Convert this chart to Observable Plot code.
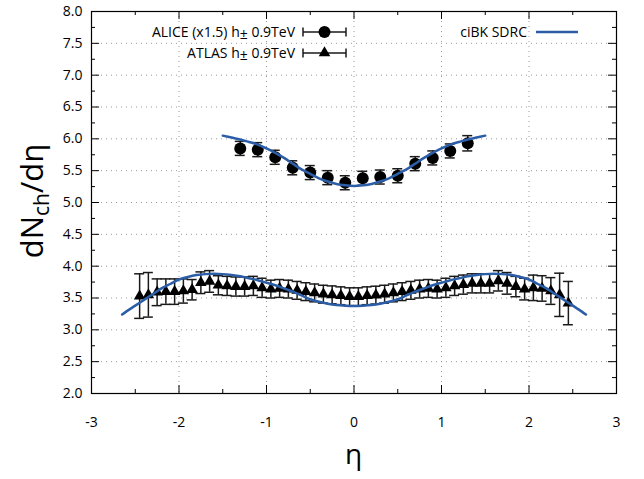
<!DOCTYPE html>
<html>
<head>
<meta charset="utf-8">
<script src="https://cdn.jsdelivr.net/npm/d3@7"></script>
<script src="https://cdn.jsdelivr.net/npm/@observablehq/plot@0.6"></script>
<style>
  html, body { margin: 0; padding: 0; background: white; }
</style>
</head>
<body>
<div id="chart"></div>
<script>
// ALICE (x1.5) h± 0.9 TeV
const etaAlice = [-1.3, -1.1, -0.9, -0.7, -0.5, -0.3, -0.1, 0.1, 0.3, 0.5, 0.7, 0.9, 1.1, 1.3];
const dnAlice  = [5.85, 5.83, 5.71, 5.545, 5.47, 5.39, 5.31, 5.38, 5.40, 5.42, 5.61, 5.70, 5.81, 5.93];
const errAlice = [0.11, 0.11, 0.11, 0.11, 0.11, 0.11, 0.11, 0.11, 0.11, 0.11, 0.11, 0.11, 0.11, 0.12];

// ATLAS h± 0.9 TeV
const etaAtlas = [-2.45, -2.35, -2.25, -2.15, -2.05, -1.95, -1.85, -1.75, -1.65, -1.55,
                  -1.45, -1.35, -1.25, -1.15, -1.05, -0.95, -0.85, -0.75, -0.65, -0.55,
                  -0.45, -0.35, -0.25, -0.15, -0.05, 0.05, 0.15, 0.25, 0.35, 0.45,
                  0.55, 0.65, 0.75, 0.85, 0.95, 1.05, 1.15, 1.25, 1.35, 1.45,
                  1.55, 1.65, 1.75, 1.85, 1.95, 2.05, 2.15, 2.25, 2.35, 2.45];
const dnAtlas  = [3.53, 3.55, 3.59, 3.60, 3.60, 3.61, 3.63, 3.74, 3.76, 3.70,
                  3.69, 3.68, 3.68, 3.69, 3.66, 3.64, 3.65, 3.64, 3.62, 3.60,
                  3.58, 3.56, 3.55, 3.535, 3.52, 3.52, 3.535, 3.545, 3.56, 3.58,
                  3.60, 3.62, 3.64, 3.65, 3.64, 3.66, 3.69, 3.71, 3.73, 3.73,
                  3.73, 3.77, 3.73, 3.68, 3.64, 3.66, 3.65, 3.61, 3.55, 3.42];
const errAtlas = [0.35, 0.35, 0.21, 0.20, 0.20, 0.19, 0.16, 0.17, 0.17, 0.15,
                  0.15, 0.15, 0.15, 0.15, 0.15, 0.14, 0.14, 0.14, 0.14, 0.14,
                  0.14, 0.14, 0.14, 0.14, 0.14, 0.14, 0.14, 0.14, 0.14, 0.14,
                  0.14, 0.14, 0.14, 0.14, 0.14, 0.15, 0.15, 0.15, 0.15, 0.15,
                  0.15, 0.16, 0.17, 0.16, 0.17, 0.20, 0.20, 0.21, 0.34, 0.34];

// ciBK SDRC model curves
const etaAliceModel = [-1.5, -1.4, -1.3, -1.2, -1.1, -1.0, -0.9, -0.8, -0.7, -0.6, -0.5, -0.4, -0.3, -0.2, -0.1, 0,
                       0.1, 0.2, 0.3, 0.4, 0.5, 0.6, 0.7, 0.8, 0.9, 1.0, 1.1, 1.2, 1.3, 1.4, 1.5];
const dnAliceModel  = [6.05, 6.02, 5.99, 5.95, 5.91, 5.85, 5.78, 5.70, 5.61, 5.52, 5.45, 5.38, 5.33, 5.29, 5.27, 5.26,
                       5.27, 5.29, 5.33, 5.38, 5.45, 5.52, 5.61, 5.70, 5.78, 5.85, 5.91, 5.95, 5.99, 6.02, 6.05];
const etaAtlasModel = [-2.65, -2.6, -2.5, -2.4, -2.3, -2.2, -2.1, -2.0, -1.9, -1.8, -1.7, -1.6, -1.5, -1.4,
                       -1.3, -1.2, -1.1, -1.0, -0.9, -0.8, -0.7, -0.6, -0.5, -0.4, -0.3, -0.2, -0.1, 0,
                       0.1, 0.2, 0.3, 0.4, 0.5, 0.6, 0.7, 0.8, 0.9, 1.0, 1.1, 1.2, 1.3, 1.4,
                       1.5, 1.6, 1.7, 1.8, 1.9, 2.0, 2.1, 2.2, 2.3, 2.4, 2.5, 2.6, 2.65];
const dnAtlasModel  = [3.24, 3.29, 3.38, 3.47, 3.56, 3.65, 3.72, 3.79, 3.83, 3.86, 3.875, 3.88, 3.875, 3.86,
                       3.84, 3.81, 3.78, 3.74, 3.70, 3.65, 3.60, 3.54, 3.48, 3.44, 3.41, 3.39, 3.38, 3.375,
                       3.38, 3.39, 3.41, 3.44, 3.48, 3.54, 3.60, 3.65, 3.70, 3.74, 3.78, 3.81, 3.84, 3.86,
                       3.875, 3.88, 3.875, 3.86, 3.83, 3.79, 3.72, 3.65, 3.56, 3.47, 3.38, 3.29, 3.24];

// ticks
const xTicks = [-3, -2, -1, 0, 1, 2, 3];
const xMinor = [-2.5, -1.5, -0.5, 0.5, 1.5, 2.5];
const xGrid  = [-2, -1, 0, 1, 2];
const yTicks = [2.0, 2.5, 3.0, 3.5, 4.0, 4.5, 5.0, 5.5, 6.0, 6.5, 7.0, 7.5, 8.0];
const yMinor = [2.25, 2.75, 3.25, 3.75, 4.25, 4.75, 5.25, 5.75, 6.25, 6.75, 7.25, 7.75];
const yGrid  = [2.5, 3.0, 3.5, 4.0, 4.5, 5.0, 5.5, 6.0, 6.5, 7.0, 7.5];

const legendAlice = "ALICE (x1.5) h";
const legendAtlas = "ATLAS h";
const legendSuffix = " 0.9TeV";
const legendModel = "ciBK SDRC";

const alice = etaAlice.map((x, i) => ({x, y: dnAlice[i], e: errAlice[i]}));
const atlas = etaAtlas.map((x, i) => ({x, y: dnAtlas[i], e: errAtlas[i]}));
const aliceModel = etaAliceModel.map((x, i) => ({x, y: dnAliceModel[i]}));
const atlasModel = etaAtlasModel.map((x, i) => ({x, y: dnAtlasModel[i]}));

const W = 644, H = 479, ML = 91, MR = 28, MT = 11, MB = 86;
const FW = W - ML - MR, FH = H - MT - MB;
const blue = "#2c5ea8";
const errColor = "#1a1a1a";
const capHalf = 0.057;
const triR = 4.3;

const chart = Plot.plot({
  width: W, height: H,
  marginLeft: ML, marginRight: MR, marginTop: MT, marginBottom: MB,
  x: {domain: [-3, 3]},
  y: {domain: [2, 8]},
  style: {fontFamily: "'Open Sans', sans-serif", fontSize: "14px", background: "white", color: "black"},
  marks: [
    Plot.gridX(xGrid, {stroke: "#9a9a9a", strokeOpacity: 1, strokeDasharray: "1,4", strokeWidth: 1}),
    Plot.gridY(yGrid, {stroke: "#9a9a9a", strokeOpacity: 1, strokeDasharray: "1,4", strokeWidth: 1}),
    // ticks (inward, mirrored)
    Plot.ruleX(xTicks, {x: d => d, insetTop: FH - 8, stroke: "black"}),
    Plot.ruleX(xTicks, {x: d => d, insetBottom: FH - 8, stroke: "black"}),
    Plot.ruleX(xMinor, {x: d => d, insetTop: FH - 4, stroke: "black"}),
    Plot.ruleX(xMinor, {x: d => d, insetBottom: FH - 4, stroke: "black"}),
    Plot.ruleY(yTicks, {y: d => d, insetRight: FW - 8, stroke: "black"}),
    Plot.ruleY(yTicks, {y: d => d, insetLeft: FW - 8, stroke: "black"}),
    Plot.ruleY(yMinor, {y: d => d, insetRight: FW - 4, stroke: "black"}),
    Plot.ruleY(yMinor, {y: d => d, insetLeft: FW - 4, stroke: "black"}),
    Plot.axisX({ticks: xTicks, tickSize: 0, tickPadding: 24, tickFormat: d => String(d), fontSize: 14, label: null}),
    Plot.axisY({ticks: yTicks, tickSize: 0, tickPadding: 9, tickFormat: d3.format(".1f"), fontSize: 14, label: null}),
    // ATLAS error bars
    Plot.ruleX(atlas, {x: "x", y1: d => d.y - d.e, y2: d => d.y + d.e, stroke: errColor, strokeWidth: 1.5}),
    Plot.ruleY(atlas, {y: d => d.y - d.e, x1: d => d.x - capHalf, x2: d => d.x + capHalf, stroke: errColor, strokeWidth: 1.5}),
    Plot.ruleY(atlas, {y: d => d.y + d.e, x1: d => d.x - capHalf, x2: d => d.x + capHalf, stroke: errColor, strokeWidth: 1.5}),
    Plot.dot(atlas, {x: "x", y: "y", symbol: "triangle", r: triR, fill: "black", stroke: "none"}),
    // ALICE error bars
    Plot.ruleX(alice, {x: "x", y1: d => d.y - d.e, y2: d => d.y + d.e, stroke: errColor, strokeWidth: 1.5}),
    Plot.ruleY(alice, {y: d => d.y - d.e, x1: d => d.x - capHalf, x2: d => d.x + capHalf, stroke: errColor, strokeWidth: 1.5}),
    Plot.ruleY(alice, {y: d => d.y + d.e, x1: d => d.x - capHalf, x2: d => d.x + capHalf, stroke: errColor, strokeWidth: 1.5}),
    Plot.dot(alice, {x: "x", y: "y", r: 6, fill: "black", stroke: "none"}),
    // model curves
    Plot.line(atlasModel, {x: "x", y: "y", stroke: blue, strokeWidth: 2.5, curve: "catmull-rom"}),
    Plot.line(aliceModel, {x: "x", y: "y", stroke: blue, strokeWidth: 2.5, curve: "catmull-rom"}),
    Plot.frame({stroke: "black", strokeWidth: 1.2})
  ]
});

const svg = d3.select(chart);
const font = "'Open Sans', sans-serif";

// Legend
function legendText(x, y, main) {
  const t = svg.append("text").attr("x", x).attr("y", y).attr("dy", "0.35em")
    .attr("text-anchor", "end").attr("font-family", font).attr("font-size", 14).attr("fill", "black");
  t.append("tspan").text(main);
  t.append("tspan").attr("dy", 2).text("\u00b1");
  t.append("tspan").attr("dy", -2).text(legendSuffix);
}
function legendBar(y) {
  const g = svg.append("g").attr("stroke", errColor).attr("stroke-width", 1.5);
  g.append("line").attr("x1", 303).attr("x2", 346).attr("y1", y).attr("y2", y);
  g.append("line").attr("x1", 303).attr("x2", 303).attr("y1", y - 4.5).attr("y2", y + 4.5);
  g.append("line").attr("x1", 346).attr("x2", 346).attr("y1", y - 4.5).attr("y2", y + 4.5);
}
legendText(295, 32, legendAlice);
legendBar(32);
svg.append("circle").attr("cx", 324.5).attr("cy", 32).attr("r", 6).attr("fill", "black");
legendText(295, 53, legendAtlas);
legendBar(53);
svg.append("path").attr("transform", "translate(324.5,53)")
  .attr("d", d3.symbol().type(d3.symbolTriangle).size(Math.PI * triR * triR)()).attr("fill", "black");

svg.append("text").attr("x", 527).attr("y", 32).attr("dy", "0.35em").attr("text-anchor", "end")
  .attr("font-family", font).attr("font-size", 14).attr("fill", "black").text(legendModel);
svg.append("line").attr("x1", 536).attr("x2", 578).attr("y1", 32).attr("y2", 32)
  .attr("stroke", blue).attr("stroke-width", 2.5);

// Axis titles
const yl = svg.append("text").attr("transform", "translate(43,201) rotate(-90)")
  .attr("text-anchor", "middle").attr("font-family", font).attr("font-size", 31).attr("fill", "black");
yl.append("tspan").text("dN");
yl.append("tspan").attr("font-size", 21).attr("dy", 6).text("ch");
yl.append("tspan").attr("dy", -6).text("/dη");

svg.append("text").attr("x", ML + FW / 2).attr("y", 464).attr("text-anchor", "middle")
  .attr("font-family", font).attr("font-size", 28).attr("fill", "black").text("η");

document.getElementById("chart").appendChild(chart);
</script>
</body>
</html>
